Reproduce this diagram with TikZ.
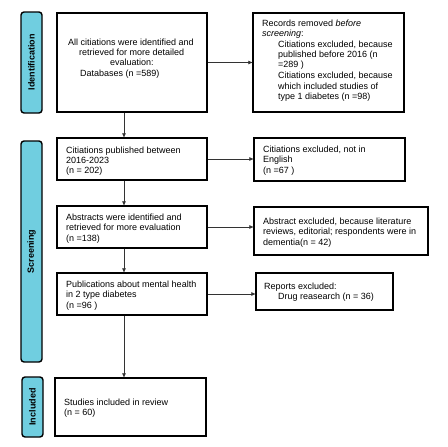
\documentclass[tikz,border=0pt]{standalone}
\usepackage{fontspec}
\setmainfont{Liberation Sans}
\usetikzlibrary{arrows.meta}
\definecolor{barcyan}{RGB}{112,206,224}
\begin{document}
\begin{tikzpicture}[x=1pt,y=-1pt,
  box/.style={draw=black,line width=1.3pt,rectangle,inner sep=0pt},
  txt/.style={anchor=base west,inner sep=0pt,font=\fontsize{9}{10.4}\selectfont},
  bar/.style={draw=black,line width=1.4pt,rounded corners=3pt,fill=barcyan,
    font=\bfseries\fontsize{9}{10}\selectfont,rotate=90,inner sep=0pt},
  conn/.style={draw=black!80,line width=0.7pt,-{Triangle[length=4pt,width=3.6pt]}}]
\useasboundingbox (0,0) rectangle (448,447);
% phase bars
\node[bar,minimum width=101pt,minimum height=21pt] (bid) at (31.5,62.5) {Identification};
\node[bar,minimum width=221pt,minimum height=21pt] (bsc) at (31.5,251.5) {Screening};
\node[bar,minimum width=60pt,minimum height=21pt] (bin) at (32.5,407) {Included};
% boxes
\node[box,minimum width=150pt,minimum height=99pt] (b1) at (132,62.5) {};
\node[box,minimum width=150pt,minimum height=42pt] (b2) at (132,159) {};
\node[box,minimum width=150pt,minimum height=42pt] (b3) at (132,227) {};
\node[box,minimum width=150pt,minimum height=42pt] (b4) at (132,294) {};
\node[box,minimum width=151pt,minimum height=58pt] (b5) at (130.5,407) {};
\node[box,minimum width=151pt,minimum height=99pt] (r1) at (328.5,62.5) {};
\node[box,minimum width=151pt,minimum height=43pt] (r2) at (329.5,159.5) {};
\node[box,minimum width=174pt,minimum height=48pt] (r3) at (341,231) {};
\node[box,minimum width=137pt,minimum height=37pt] (r4) at (324.5,291.5) {};
% texts
\node[txt] (b1a) at (68,45.3) {All citiations were identified and};
\node[txt] (b1b) at (79,55.6) {retrieved for more detailed};
\node[txt] (b1c) at (110,65.9) {evaluation:};
\node[txt] (b1d) at (80,76.2) {Databases (n =589)};
\node[txt] (b2a) at (66,153.2) {Citiations published between};
\node[txt] (b2b) at (66,163.2) {2016-2023};
\node[txt] (b2c) at (66,173.0) {(n = 202)};
\node[txt] (b3a) at (66,220.5) {Abstracts were identified and};
\node[txt] (b3b) at (66,230.8) {retrieved for more evaluation};
\node[txt] (b3c) at (66,241.0) {(n =138)};
\node[txt] (b4a) at (66,287.5) {Publications about mental health};
\node[txt] (b4b) at (66,297.7) {in 2 type diabetes};
\node[txt] (b4c) at (66,308.0) {(n =96 )};
\node[txt] (b5a) at (64,405.5) {Studies included in review};
\node[txt] (b5b) at (64,415.5) {(n = 60)};
\node[txt] (r1a) at (262,26.2) {Records removed \textit{before}};
\node[txt] (r1b) at (262,36.4) {\textit{screening}:};
\node[txt] (r1c) at (278,47.2) {Citiations excluded, because};
\node[txt] (r1d) at (278,57.4) {published before 2016 (n};
\node[txt] (r1e) at (278,67.6) {=289 )};
\node[txt] (r1f) at (278,78.4) {Citiations excluded, because};
\node[txt] (r1g) at (278,89.0) {which included studies of};
\node[txt] (r1h) at (278,99.8) {type 1 diabetes (n =98)};
\node[txt] (r2a) at (263,152.5) {Citiations excluded, not in};
\node[txt] (r2b) at (263,162.5) {English};
\node[txt] (r2c) at (263,173.0) {(n =67 )};
\node[txt] (r3a) at (263,224.7) {Abstract excluded, because literature};
\node[txt] (r3b) at (263,234.9) {reviews, editorial; respondents were in};
\node[txt] (r3c) at (263,245.5) {dementia(n = 42)};
\node[txt] (r4a) at (264,289.3) {Reports excluded:};
\node[txt] (r4b) at (278,299.5) {Drug reasearch (n = 36)};
% connectors
\coordinate (ax) at (124,0);
\draw[conn] (b1.south -| ax) -- (b2.north -| ax);
\draw[conn] (b2.south -| ax) -- (b3.north -| ax);
\draw[conn] (b3.south -| ax) -- (b4.north -| ax);
\draw[conn] (b4.south -| ax) -- (b5.north -| ax);
\draw[conn] (b1.east) -- (b1.east -| r1.west);
\draw[conn] (b2.east) -- (b2.east -| r2.west);
\draw[conn] (b3.east) -- (b3.east -| r3.west);
\draw[conn] (b4.east) -- (b4.east -| r4.west);
\end{tikzpicture}
\end{document}
